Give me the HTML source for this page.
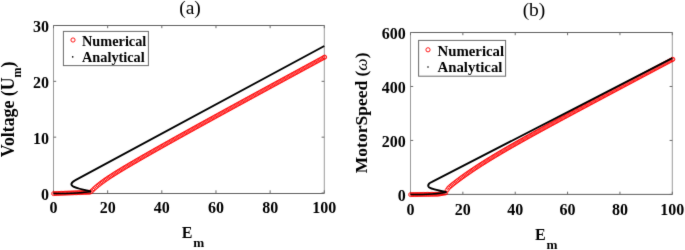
<!DOCTYPE html>
<html><head><meta charset="utf-8"><style>
html,body{margin:0;padding:0;background:#fff;width:685px;height:250px;overflow:hidden}
svg{display:block;will-change:transform}
.tk text{font-family:"Liberation Serif",serif;font-weight:bold;font-size:16px;fill:#000}
.lg{font-family:"Liberation Serif",serif;font-weight:bold;font-size:14.3px;fill:#000}
.lb{font-family:"Liberation Serif",serif;font-weight:bold;fill:#000}
.ti{font-family:"Liberation Serif",serif;font-size:19.5px;fill:#000}
.rc circle{fill:none;stroke:#ff0000;stroke-width:0.75}
</style></head><body>
<svg width="685" height="250" viewBox="0 0 685 250">
<defs><filter id="bl" color-interpolation-filters="sRGB" x="-2%" y="-2%" width="104%" height="104%"><feConvolveMatrix order="3" kernelMatrix="0.01 0.07 0.01 0.07 0.68 0.07 0.01 0.07 0.01" edgeMode="none" preserveAlpha="false"/></filter></defs>
<rect width="685" height="250" fill="#fff"/>
<g filter="url(#bl)">
<text x="190" y="14.2" text-anchor="middle" class="ti">(a)</text>
<text x="534" y="15.6" text-anchor="middle" class="ti">(b)</text>
<g stroke="#6b6b6b" stroke-width="1" fill="none"><path d="M53.5,193.5H324.3M53.5,25.5H324.3" stroke="#606060"/>
<path d="M53.5,25V194M324.3,25V194" stroke="#9a9a9a"/>
<path d="M53.5,193v-2.7M53.5,25.5v2.7"/>
<path d="M107.66,193v-2.7M107.66,25.5v2.7"/>
<path d="M161.82,193v-2.7M161.82,25.5v2.7"/>
<path d="M215.98,193v-2.7M215.98,25.5v2.7"/>
<path d="M270.14,193v-2.7M270.14,25.5v2.7"/>
<path d="M324.3,193v-2.7M324.3,25.5v2.7"/>
<path d="M53.5,193h2.7M324.3,193h-2.7"/>
<path d="M53.5,137.17h2.7M324.3,137.17h-2.7"/>
<path d="M53.5,81.33h2.7M324.3,81.33h-2.7"/>
<path d="M53.5,25.5h2.7M324.3,25.5h-2.7"/></g>
<g class="tk"><text x="53.5" y="213" text-anchor="middle">0</text>
<text x="107.66" y="213" text-anchor="middle">20</text>
<text x="161.82" y="213" text-anchor="middle">40</text>
<text x="215.98" y="213" text-anchor="middle">60</text>
<text x="270.14" y="213" text-anchor="middle">80</text>
<text x="324.3" y="213" text-anchor="middle">100</text>
<text x="49" y="199.5" text-anchor="end">0</text>
<text x="49" y="143.67" text-anchor="end">10</text>
<text x="49" y="87.83" text-anchor="end">20</text>
<text x="49" y="32" text-anchor="end">30</text></g>
<g class="rc">
<circle cx="53.5" cy="193.6" r="2.0"/>
<circle cx="54.85" cy="193.55" r="2.0"/>
<circle cx="56.21" cy="193.5" r="2.0"/>
<circle cx="57.56" cy="193.45" r="2.0"/>
<circle cx="58.92" cy="193.4" r="2.0"/>
<circle cx="60.27" cy="193.34" r="2.0"/>
<circle cx="61.62" cy="193.29" r="2.0"/>
<circle cx="62.98" cy="193.24" r="2.0"/>
<circle cx="64.33" cy="193.19" r="2.0"/>
<circle cx="65.69" cy="193.14" r="2.0"/>
<circle cx="67.04" cy="193.09" r="2.0"/>
<circle cx="68.39" cy="193.04" r="2.0"/>
<circle cx="69.75" cy="192.99" r="2.0"/>
<circle cx="71.1" cy="192.94" r="2.0"/>
<circle cx="72.46" cy="192.88" r="2.0"/>
<circle cx="73.81" cy="192.83" r="2.0"/>
<circle cx="75.16" cy="192.78" r="2.0"/>
<circle cx="76.52" cy="192.73" r="2.0"/>
<circle cx="77.87" cy="192.68" r="2.0"/>
<circle cx="79.23" cy="192.63" r="2.0"/>
<circle cx="80.58" cy="192.58" r="2.0"/>
<circle cx="81.93" cy="192.53" r="2.0"/>
<circle cx="83.29" cy="192.48" r="2.0"/>
<circle cx="84.64" cy="192.42" r="2.0"/>
<circle cx="86" cy="192.37" r="2.0"/>
<circle cx="87.35" cy="192.32" r="2.0"/>
<circle cx="88.7" cy="192.27" r="2.0"/>
<circle cx="90.06" cy="192.22" r="2.0"/>
<circle cx="91.41" cy="191.35" r="2.0"/>
<circle cx="92.77" cy="190" r="2.0"/>
<circle cx="94.12" cy="188.73" r="2.0"/>
<circle cx="95.47" cy="187.51" r="2.0"/>
<circle cx="96.83" cy="186.34" r="2.0"/>
<circle cx="98.18" cy="185.23" r="2.0"/>
<circle cx="99.54" cy="184.15" r="2.0"/>
<circle cx="100.89" cy="183.11" r="2.0"/>
<circle cx="102.24" cy="182.1" r="2.0"/>
<circle cx="103.6" cy="181.11" r="2.0"/>
<circle cx="104.95" cy="180.15" r="2.0"/>
<circle cx="106.31" cy="179.21" r="2.0"/>
<circle cx="107.66" cy="178.29" r="2.0"/>
<circle cx="109.01" cy="177.39" r="2.0"/>
<circle cx="110.37" cy="176.5" r="2.0"/>
<circle cx="111.72" cy="175.62" r="2.0"/>
<circle cx="113.08" cy="174.75" r="2.0"/>
<circle cx="114.43" cy="173.9" r="2.0"/>
<circle cx="115.78" cy="173.05" r="2.0"/>
<circle cx="117.14" cy="172.21" r="2.0"/>
<circle cx="118.49" cy="171.37" r="2.0"/>
<circle cx="119.85" cy="170.55" r="2.0"/>
<circle cx="121.2" cy="169.72" r="2.0"/>
<circle cx="122.55" cy="168.91" r="2.0"/>
<circle cx="123.91" cy="168.1" r="2.0"/>
<circle cx="125.26" cy="167.29" r="2.0"/>
<circle cx="126.62" cy="166.48" r="2.0"/>
<circle cx="127.97" cy="165.68" r="2.0"/>
<circle cx="129.32" cy="164.88" r="2.0"/>
<circle cx="130.68" cy="164.09" r="2.0"/>
<circle cx="132.03" cy="163.3" r="2.0"/>
<circle cx="133.39" cy="162.51" r="2.0"/>
<circle cx="134.74" cy="161.72" r="2.0"/>
<circle cx="136.09" cy="160.93" r="2.0"/>
<circle cx="137.45" cy="160.15" r="2.0"/>
<circle cx="138.8" cy="159.37" r="2.0"/>
<circle cx="140.16" cy="158.59" r="2.0"/>
<circle cx="141.51" cy="157.81" r="2.0"/>
<circle cx="142.86" cy="157.03" r="2.0"/>
<circle cx="144.22" cy="156.25" r="2.0"/>
<circle cx="145.57" cy="155.48" r="2.0"/>
<circle cx="146.93" cy="154.71" r="2.0"/>
<circle cx="148.28" cy="153.93" r="2.0"/>
<circle cx="149.63" cy="153.16" r="2.0"/>
<circle cx="150.99" cy="152.39" r="2.0"/>
<circle cx="152.34" cy="151.62" r="2.0"/>
<circle cx="153.7" cy="150.86" r="2.0"/>
<circle cx="155.05" cy="150.09" r="2.0"/>
<circle cx="156.4" cy="149.32" r="2.0"/>
<circle cx="157.76" cy="148.56" r="2.0"/>
<circle cx="159.11" cy="147.8" r="2.0"/>
<circle cx="160.47" cy="147.03" r="2.0"/>
<circle cx="161.82" cy="146.27" r="2.0"/>
<circle cx="163.17" cy="145.51" r="2.0"/>
<circle cx="164.53" cy="144.75" r="2.0"/>
<circle cx="165.88" cy="143.99" r="2.0"/>
<circle cx="167.24" cy="143.23" r="2.0"/>
<circle cx="168.59" cy="142.47" r="2.0"/>
<circle cx="169.94" cy="141.71" r="2.0"/>
<circle cx="171.3" cy="140.96" r="2.0"/>
<circle cx="172.65" cy="140.2" r="2.0"/>
<circle cx="174.01" cy="139.44" r="2.0"/>
<circle cx="175.36" cy="138.69" r="2.0"/>
<circle cx="176.71" cy="137.93" r="2.0"/>
<circle cx="178.07" cy="137.18" r="2.0"/>
<circle cx="179.42" cy="136.43" r="2.0"/>
<circle cx="180.78" cy="135.67" r="2.0"/>
<circle cx="182.13" cy="134.92" r="2.0"/>
<circle cx="183.48" cy="134.17" r="2.0"/>
<circle cx="184.84" cy="133.42" r="2.0"/>
<circle cx="186.19" cy="132.67" r="2.0"/>
<circle cx="187.55" cy="131.92" r="2.0"/>
<circle cx="188.9" cy="131.17" r="2.0"/>
<circle cx="190.25" cy="130.42" r="2.0"/>
<circle cx="191.61" cy="129.67" r="2.0"/>
<circle cx="192.96" cy="128.92" r="2.0"/>
<circle cx="194.32" cy="128.17" r="2.0"/>
<circle cx="195.67" cy="127.42" r="2.0"/>
<circle cx="197.02" cy="126.67" r="2.0"/>
<circle cx="198.38" cy="125.93" r="2.0"/>
<circle cx="199.73" cy="125.18" r="2.0"/>
<circle cx="201.09" cy="124.43" r="2.0"/>
<circle cx="202.44" cy="123.69" r="2.0"/>
<circle cx="203.79" cy="122.94" r="2.0"/>
<circle cx="205.15" cy="122.2" r="2.0"/>
<circle cx="206.5" cy="121.45" r="2.0"/>
<circle cx="207.86" cy="120.71" r="2.0"/>
<circle cx="209.21" cy="119.96" r="2.0"/>
<circle cx="210.56" cy="119.22" r="2.0"/>
<circle cx="211.92" cy="118.48" r="2.0"/>
<circle cx="213.27" cy="117.73" r="2.0"/>
<circle cx="214.63" cy="116.99" r="2.0"/>
<circle cx="215.98" cy="116.25" r="2.0"/>
<circle cx="217.33" cy="115.5" r="2.0"/>
<circle cx="218.69" cy="114.76" r="2.0"/>
<circle cx="220.04" cy="114.02" r="2.0"/>
<circle cx="221.4" cy="113.28" r="2.0"/>
<circle cx="222.75" cy="112.53" r="2.0"/>
<circle cx="224.1" cy="111.79" r="2.0"/>
<circle cx="225.46" cy="111.05" r="2.0"/>
<circle cx="226.81" cy="110.31" r="2.0"/>
<circle cx="228.17" cy="109.57" r="2.0"/>
<circle cx="229.52" cy="108.83" r="2.0"/>
<circle cx="230.87" cy="108.09" r="2.0"/>
<circle cx="232.23" cy="107.35" r="2.0"/>
<circle cx="233.58" cy="106.61" r="2.0"/>
<circle cx="234.94" cy="105.87" r="2.0"/>
<circle cx="236.29" cy="105.13" r="2.0"/>
<circle cx="237.64" cy="104.39" r="2.0"/>
<circle cx="239" cy="103.65" r="2.0"/>
<circle cx="240.35" cy="102.91" r="2.0"/>
<circle cx="241.71" cy="102.17" r="2.0"/>
<circle cx="243.06" cy="101.44" r="2.0"/>
<circle cx="244.41" cy="100.7" r="2.0"/>
<circle cx="245.77" cy="99.96" r="2.0"/>
<circle cx="247.12" cy="99.22" r="2.0"/>
<circle cx="248.48" cy="98.48" r="2.0"/>
<circle cx="249.83" cy="97.74" r="2.0"/>
<circle cx="251.18" cy="97.01" r="2.0"/>
<circle cx="252.54" cy="96.27" r="2.0"/>
<circle cx="253.89" cy="95.53" r="2.0"/>
<circle cx="255.25" cy="94.79" r="2.0"/>
<circle cx="256.6" cy="94.06" r="2.0"/>
<circle cx="257.95" cy="93.32" r="2.0"/>
<circle cx="259.31" cy="92.58" r="2.0"/>
<circle cx="260.66" cy="91.84" r="2.0"/>
<circle cx="262.02" cy="91.11" r="2.0"/>
<circle cx="263.37" cy="90.37" r="2.0"/>
<circle cx="264.72" cy="89.63" r="2.0"/>
<circle cx="266.08" cy="88.9" r="2.0"/>
<circle cx="267.43" cy="88.16" r="2.0"/>
<circle cx="268.79" cy="87.43" r="2.0"/>
<circle cx="270.14" cy="86.69" r="2.0"/>
<circle cx="271.49" cy="85.95" r="2.0"/>
<circle cx="272.85" cy="85.22" r="2.0"/>
<circle cx="274.2" cy="84.48" r="2.0"/>
<circle cx="275.56" cy="83.75" r="2.0"/>
<circle cx="276.91" cy="83.01" r="2.0"/>
<circle cx="278.26" cy="82.27" r="2.0"/>
<circle cx="279.62" cy="81.54" r="2.0"/>
<circle cx="280.97" cy="80.8" r="2.0"/>
<circle cx="282.33" cy="80.07" r="2.0"/>
<circle cx="283.68" cy="79.33" r="2.0"/>
<circle cx="285.03" cy="78.6" r="2.0"/>
<circle cx="286.39" cy="77.86" r="2.0"/>
<circle cx="287.74" cy="77.13" r="2.0"/>
<circle cx="289.1" cy="76.39" r="2.0"/>
<circle cx="290.45" cy="75.66" r="2.0"/>
<circle cx="291.8" cy="74.92" r="2.0"/>
<circle cx="293.16" cy="74.19" r="2.0"/>
<circle cx="294.51" cy="73.45" r="2.0"/>
<circle cx="295.87" cy="72.72" r="2.0"/>
<circle cx="297.22" cy="71.98" r="2.0"/>
<circle cx="298.57" cy="71.25" r="2.0"/>
<circle cx="299.93" cy="70.51" r="2.0"/>
<circle cx="301.28" cy="69.78" r="2.0"/>
<circle cx="302.64" cy="69.04" r="2.0"/>
<circle cx="303.99" cy="68.31" r="2.0"/>
<circle cx="305.34" cy="67.58" r="2.0"/>
<circle cx="306.7" cy="66.84" r="2.0"/>
<circle cx="308.05" cy="66.11" r="2.0"/>
<circle cx="309.41" cy="65.37" r="2.0"/>
<circle cx="310.76" cy="64.64" r="2.0"/>
<circle cx="312.11" cy="63.9" r="2.0"/>
<circle cx="313.47" cy="63.17" r="2.0"/>
<circle cx="314.82" cy="62.44" r="2.0"/>
<circle cx="316.18" cy="61.7" r="2.0"/>
<circle cx="317.53" cy="60.97" r="2.0"/>
<circle cx="318.88" cy="60.23" r="2.0"/>
<circle cx="320.24" cy="59.5" r="2.0"/>
<circle cx="321.59" cy="58.77" r="2.0"/>
<circle cx="322.95" cy="58.03" r="2.0"/>
<circle cx="324.3" cy="57.3" r="2.0"/>
<circle cx="324.7" cy="57.08" r="2.0"/>
</g>
<path d="M53.5,193.6 Q80,193.4 90.9,191.5" fill="none" stroke="#000" stroke-width="1.5"/>
<path d="M90.9,191.5 C81,189 72,187.5 71.4,184.6 C71.2,182.8 72.6,181.6 75,180.4 L324.3,46" fill="none" stroke="#000" stroke-width="1.9" stroke-linejoin="round"/>
<rect x="63.4" y="31.4" width="85" height="34.2" fill="#fff" stroke="#6b6b6b" stroke-width="1"/>
<circle cx="73" cy="40" r="2.1" fill="none" stroke="#ff0000" stroke-width="0.9"/>
<circle cx="72.7" cy="56.9" r="0.8" fill="#000"/>
<text x="82" y="46" class="lg">Numerical</text>
<text x="82" y="62.3" class="lg">Analytical</text>
<text x="181.8" y="237.9" class="lb" font-size="16">E</text>
<text x="193.2" y="246.6" class="lb" font-size="13.2">m</text>
<g transform="translate(13.5,157.3) rotate(-90)">
<text x="0" y="0" class="lb" font-size="17.8">Voltage (U<tspan font-size="12" dy="7.3">m</tspan><tspan dy="-7.3">)</tspan></text>
</g>
<g stroke="#6b6b6b" stroke-width="1" fill="none"><path d="M410.5,194.4H672.3M410.5,32.5H672.3" stroke="#606060"/>
<path d="M410.5,32V194.9M672.3,32V194.9" stroke="#9a9a9a"/>
<path d="M410.5,194.4v-2.7M410.5,32.5v2.7"/>
<path d="M462.86,194.4v-2.7M462.86,32.5v2.7"/>
<path d="M515.22,194.4v-2.7M515.22,32.5v2.7"/>
<path d="M567.58,194.4v-2.7M567.58,32.5v2.7"/>
<path d="M619.94,194.4v-2.7M619.94,32.5v2.7"/>
<path d="M672.3,194.4v-2.7M672.3,32.5v2.7"/>
<path d="M410.5,194.4h2.7M672.3,194.4h-2.7"/>
<path d="M410.5,140.43h2.7M672.3,140.43h-2.7"/>
<path d="M410.5,86.47h2.7M672.3,86.47h-2.7"/>
<path d="M410.5,32.5h2.7M672.3,32.5h-2.7"/></g>
<g class="tk"><text x="410.5" y="214.5" text-anchor="middle">0</text>
<text x="462.86" y="214.5" text-anchor="middle">20</text>
<text x="515.22" y="214.5" text-anchor="middle">40</text>
<text x="567.58" y="214.5" text-anchor="middle">60</text>
<text x="619.94" y="214.5" text-anchor="middle">80</text>
<text x="672.3" y="214.5" text-anchor="middle">100</text>
<text x="405.7" y="200.7" text-anchor="end">0</text>
<text x="405.7" y="146.73" text-anchor="end">200</text>
<text x="405.7" y="92.77" text-anchor="end">400</text>
<text x="405.7" y="38.8" text-anchor="end">600</text></g>
<g class="rc">
<circle cx="410.5" cy="194.6" r="2.0"/>
<circle cx="411.81" cy="194.58" r="2.0"/>
<circle cx="413.12" cy="194.56" r="2.0"/>
<circle cx="414.43" cy="194.54" r="2.0"/>
<circle cx="415.74" cy="194.52" r="2.0"/>
<circle cx="417.05" cy="194.5" r="2.0"/>
<circle cx="418.35" cy="194.49" r="2.0"/>
<circle cx="419.66" cy="194.47" r="2.0"/>
<circle cx="420.97" cy="194.45" r="2.0"/>
<circle cx="422.28" cy="194.43" r="2.0"/>
<circle cx="423.59" cy="194.41" r="2.0"/>
<circle cx="424.9" cy="194.39" r="2.0"/>
<circle cx="426.21" cy="194.37" r="2.0"/>
<circle cx="427.52" cy="194.35" r="2.0"/>
<circle cx="428.83" cy="194.33" r="2.0"/>
<circle cx="430.14" cy="194.31" r="2.0"/>
<circle cx="431.44" cy="194.3" r="2.0"/>
<circle cx="432.75" cy="194.28" r="2.0"/>
<circle cx="434.06" cy="194.26" r="2.0"/>
<circle cx="435.37" cy="194.24" r="2.0"/>
<circle cx="436.68" cy="194.22" r="2.0"/>
<circle cx="437.99" cy="194.2" r="2.0"/>
<circle cx="439.3" cy="193.98" r="2.0"/>
<circle cx="440.61" cy="193.75" r="2.0"/>
<circle cx="441.92" cy="193.53" r="2.0"/>
<circle cx="443.23" cy="193.31" r="2.0"/>
<circle cx="444.53" cy="193.08" r="2.0"/>
<circle cx="445.84" cy="192.86" r="2.0"/>
<circle cx="447.15" cy="189.99" r="2.0"/>
<circle cx="448.46" cy="188.09" r="2.0"/>
<circle cx="449.77" cy="186.82" r="2.0"/>
<circle cx="451.08" cy="185.72" r="2.0"/>
<circle cx="452.39" cy="184.66" r="2.0"/>
<circle cx="453.7" cy="183.62" r="2.0"/>
<circle cx="455.01" cy="182.6" r="2.0"/>
<circle cx="456.32" cy="181.59" r="2.0"/>
<circle cx="457.62" cy="180.6" r="2.0"/>
<circle cx="458.93" cy="179.62" r="2.0"/>
<circle cx="460.24" cy="178.64" r="2.0"/>
<circle cx="461.55" cy="177.68" r="2.0"/>
<circle cx="462.86" cy="176.73" r="2.0"/>
<circle cx="464.17" cy="175.79" r="2.0"/>
<circle cx="465.48" cy="174.86" r="2.0"/>
<circle cx="466.79" cy="173.94" r="2.0"/>
<circle cx="468.1" cy="173.03" r="2.0"/>
<circle cx="469.41" cy="172.13" r="2.0"/>
<circle cx="470.71" cy="171.23" r="2.0"/>
<circle cx="472.02" cy="170.35" r="2.0"/>
<circle cx="473.33" cy="169.47" r="2.0"/>
<circle cx="474.64" cy="168.6" r="2.0"/>
<circle cx="475.95" cy="167.73" r="2.0"/>
<circle cx="477.26" cy="166.88" r="2.0"/>
<circle cx="478.57" cy="166.02" r="2.0"/>
<circle cx="479.88" cy="165.18" r="2.0"/>
<circle cx="481.19" cy="164.34" r="2.0"/>
<circle cx="482.5" cy="163.51" r="2.0"/>
<circle cx="483.8" cy="162.68" r="2.0"/>
<circle cx="485.11" cy="161.86" r="2.0"/>
<circle cx="486.42" cy="161.04" r="2.0"/>
<circle cx="487.73" cy="160.23" r="2.0"/>
<circle cx="489.04" cy="159.42" r="2.0"/>
<circle cx="490.35" cy="158.62" r="2.0"/>
<circle cx="491.66" cy="157.82" r="2.0"/>
<circle cx="492.97" cy="157.03" r="2.0"/>
<circle cx="494.28" cy="156.24" r="2.0"/>
<circle cx="495.59" cy="155.45" r="2.0"/>
<circle cx="496.89" cy="154.67" r="2.0"/>
<circle cx="498.2" cy="153.89" r="2.0"/>
<circle cx="499.51" cy="153.11" r="2.0"/>
<circle cx="500.82" cy="152.34" r="2.0"/>
<circle cx="502.13" cy="151.57" r="2.0"/>
<circle cx="503.44" cy="150.8" r="2.0"/>
<circle cx="504.75" cy="150.04" r="2.0"/>
<circle cx="506.06" cy="149.28" r="2.0"/>
<circle cx="507.37" cy="148.52" r="2.0"/>
<circle cx="508.68" cy="147.76" r="2.0"/>
<circle cx="509.98" cy="147.01" r="2.0"/>
<circle cx="511.29" cy="146.26" r="2.0"/>
<circle cx="512.6" cy="145.51" r="2.0"/>
<circle cx="513.91" cy="144.77" r="2.0"/>
<circle cx="515.22" cy="144.02" r="2.0"/>
<circle cx="516.53" cy="143.28" r="2.0"/>
<circle cx="517.84" cy="142.54" r="2.0"/>
<circle cx="519.15" cy="141.8" r="2.0"/>
<circle cx="520.46" cy="141.06" r="2.0"/>
<circle cx="521.77" cy="140.33" r="2.0"/>
<circle cx="523.07" cy="139.6" r="2.0"/>
<circle cx="524.38" cy="138.87" r="2.0"/>
<circle cx="525.69" cy="138.13" r="2.0"/>
<circle cx="527" cy="137.41" r="2.0"/>
<circle cx="528.31" cy="136.68" r="2.0"/>
<circle cx="529.62" cy="135.95" r="2.0"/>
<circle cx="530.93" cy="135.23" r="2.0"/>
<circle cx="532.24" cy="134.5" r="2.0"/>
<circle cx="533.55" cy="133.78" r="2.0"/>
<circle cx="534.86" cy="133.06" r="2.0"/>
<circle cx="536.16" cy="132.34" r="2.0"/>
<circle cx="537.47" cy="131.62" r="2.0"/>
<circle cx="538.78" cy="130.9" r="2.0"/>
<circle cx="540.09" cy="130.19" r="2.0"/>
<circle cx="541.4" cy="129.47" r="2.0"/>
<circle cx="542.71" cy="128.76" r="2.0"/>
<circle cx="544.02" cy="128.04" r="2.0"/>
<circle cx="545.33" cy="127.33" r="2.0"/>
<circle cx="546.64" cy="126.62" r="2.0"/>
<circle cx="547.95" cy="125.9" r="2.0"/>
<circle cx="549.25" cy="125.19" r="2.0"/>
<circle cx="550.56" cy="124.48" r="2.0"/>
<circle cx="551.87" cy="123.77" r="2.0"/>
<circle cx="553.18" cy="123.06" r="2.0"/>
<circle cx="554.49" cy="122.35" r="2.0"/>
<circle cx="555.8" cy="121.65" r="2.0"/>
<circle cx="557.11" cy="120.94" r="2.0"/>
<circle cx="558.42" cy="120.23" r="2.0"/>
<circle cx="559.73" cy="119.52" r="2.0"/>
<circle cx="561.04" cy="118.82" r="2.0"/>
<circle cx="562.34" cy="118.11" r="2.0"/>
<circle cx="563.65" cy="117.41" r="2.0"/>
<circle cx="564.96" cy="116.7" r="2.0"/>
<circle cx="566.27" cy="116" r="2.0"/>
<circle cx="567.58" cy="115.3" r="2.0"/>
<circle cx="568.89" cy="114.59" r="2.0"/>
<circle cx="570.2" cy="113.89" r="2.0"/>
<circle cx="571.51" cy="113.19" r="2.0"/>
<circle cx="572.82" cy="112.48" r="2.0"/>
<circle cx="574.13" cy="111.78" r="2.0"/>
<circle cx="575.43" cy="111.08" r="2.0"/>
<circle cx="576.74" cy="110.38" r="2.0"/>
<circle cx="578.05" cy="109.68" r="2.0"/>
<circle cx="579.36" cy="108.98" r="2.0"/>
<circle cx="580.67" cy="108.28" r="2.0"/>
<circle cx="581.98" cy="107.58" r="2.0"/>
<circle cx="583.29" cy="106.88" r="2.0"/>
<circle cx="584.6" cy="106.18" r="2.0"/>
<circle cx="585.91" cy="105.48" r="2.0"/>
<circle cx="587.22" cy="104.78" r="2.0"/>
<circle cx="588.52" cy="104.08" r="2.0"/>
<circle cx="589.83" cy="103.38" r="2.0"/>
<circle cx="591.14" cy="102.68" r="2.0"/>
<circle cx="592.45" cy="101.99" r="2.0"/>
<circle cx="593.76" cy="101.29" r="2.0"/>
<circle cx="595.07" cy="100.59" r="2.0"/>
<circle cx="596.38" cy="99.89" r="2.0"/>
<circle cx="597.69" cy="99.19" r="2.0"/>
<circle cx="599" cy="98.5" r="2.0"/>
<circle cx="600.31" cy="97.8" r="2.0"/>
<circle cx="601.61" cy="97.1" r="2.0"/>
<circle cx="602.92" cy="96.4" r="2.0"/>
<circle cx="604.23" cy="95.71" r="2.0"/>
<circle cx="605.54" cy="95.01" r="2.0"/>
<circle cx="606.85" cy="94.31" r="2.0"/>
<circle cx="608.16" cy="93.62" r="2.0"/>
<circle cx="609.47" cy="92.92" r="2.0"/>
<circle cx="610.78" cy="92.22" r="2.0"/>
<circle cx="612.09" cy="91.53" r="2.0"/>
<circle cx="613.4" cy="90.83" r="2.0"/>
<circle cx="614.7" cy="90.14" r="2.0"/>
<circle cx="616.01" cy="89.44" r="2.0"/>
<circle cx="617.32" cy="88.74" r="2.0"/>
<circle cx="618.63" cy="88.05" r="2.0"/>
<circle cx="619.94" cy="87.35" r="2.0"/>
<circle cx="621.25" cy="86.66" r="2.0"/>
<circle cx="622.56" cy="85.96" r="2.0"/>
<circle cx="623.87" cy="85.27" r="2.0"/>
<circle cx="625.18" cy="84.57" r="2.0"/>
<circle cx="626.49" cy="83.88" r="2.0"/>
<circle cx="627.79" cy="83.18" r="2.0"/>
<circle cx="629.1" cy="82.48" r="2.0"/>
<circle cx="630.41" cy="81.79" r="2.0"/>
<circle cx="631.72" cy="81.09" r="2.0"/>
<circle cx="633.03" cy="80.4" r="2.0"/>
<circle cx="634.34" cy="79.7" r="2.0"/>
<circle cx="635.65" cy="79.01" r="2.0"/>
<circle cx="636.96" cy="78.31" r="2.0"/>
<circle cx="638.27" cy="77.62" r="2.0"/>
<circle cx="639.58" cy="76.92" r="2.0"/>
<circle cx="640.88" cy="76.23" r="2.0"/>
<circle cx="642.19" cy="75.54" r="2.0"/>
<circle cx="643.5" cy="74.84" r="2.0"/>
<circle cx="644.81" cy="74.15" r="2.0"/>
<circle cx="646.12" cy="73.45" r="2.0"/>
<circle cx="647.43" cy="72.76" r="2.0"/>
<circle cx="648.74" cy="72.06" r="2.0"/>
<circle cx="650.05" cy="71.37" r="2.0"/>
<circle cx="651.36" cy="70.67" r="2.0"/>
<circle cx="652.67" cy="69.98" r="2.0"/>
<circle cx="653.97" cy="69.28" r="2.0"/>
<circle cx="655.28" cy="68.59" r="2.0"/>
<circle cx="656.59" cy="67.9" r="2.0"/>
<circle cx="657.9" cy="67.2" r="2.0"/>
<circle cx="659.21" cy="66.51" r="2.0"/>
<circle cx="660.52" cy="65.81" r="2.0"/>
<circle cx="661.83" cy="65.12" r="2.0"/>
<circle cx="663.14" cy="64.42" r="2.0"/>
<circle cx="664.45" cy="63.73" r="2.0"/>
<circle cx="665.76" cy="63.04" r="2.0"/>
<circle cx="667.06" cy="62.34" r="2.0"/>
<circle cx="668.37" cy="61.65" r="2.0"/>
<circle cx="669.68" cy="60.95" r="2.0"/>
<circle cx="670.99" cy="60.26" r="2.0"/>
<circle cx="672.3" cy="59.56" r="2.0"/>
<circle cx="672.9" cy="59.25" r="2.0"/>
</g>
<path d="M410.5,194.6 Q436,194.4 446.5,192.2" fill="none" stroke="#000" stroke-width="1.5"/>
<path d="M446.5,192.2 C437,189.8 428.6,189.2 428.2,186.2 C428,184 429.8,182.7 432,181.9 L672.3,58.1" fill="none" stroke="#000" stroke-width="1.9" stroke-linejoin="round"/>
<rect x="418.6" y="40.4" width="87" height="35.8" fill="#fff" stroke="#6b6b6b" stroke-width="1"/>
<circle cx="428" cy="49.8" r="2.1" fill="none" stroke="#ff0000" stroke-width="0.9"/>
<circle cx="428" cy="67" r="0.8" fill="#000"/>
<text x="437.5" y="55.6" class="lg" style="font-size:14.8px">Numerical</text>
<text x="437.5" y="72.4" class="lg" style="font-size:14.8px">Analytical</text>
<text x="534.9" y="239.9" class="lb" font-size="16">E</text>
<text x="546.6" y="248.8" class="lb" font-size="13.2">m</text>
<g transform="translate(367,173.2) rotate(-90)">
<text x="0" y="0" class="lb" font-size="17.5">MotorSpeed (<tspan font-weight="normal" font-style="italic">ω</tspan>)</text>
</g>
</g>
</svg>
</body></html>
